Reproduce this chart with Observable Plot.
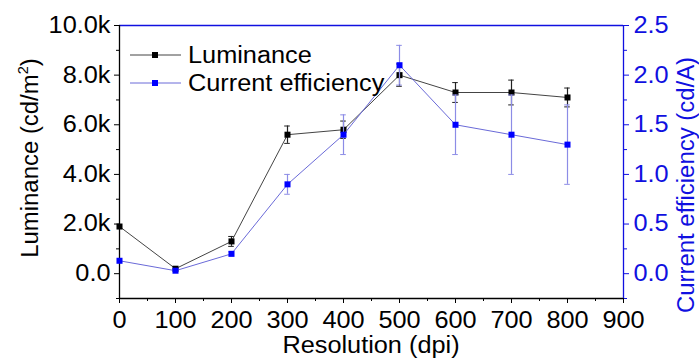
<!DOCTYPE html>
<html>
<head>
<meta charset="utf-8">
<script src="https://cdn.jsdelivr.net/npm/d3@7"></script>
<script src="https://cdn.jsdelivr.net/npm/@observablehq/plot@0.6"></script>
<style>
  html, body { margin: 0; padding: 0; background: #fff; }
  #chart { position: relative; width: 699px; height: 359px; }
</style>
</head>
<body>
<div id="chart"></div>
<script>
const resolution = [0, 100, 200, 300, 400, 500, 600, 700, 800];
const luminance = [1900, 200, 1300, 5600, 5800, 8000, 7300, 7300, 7100];
const luminanceErr = [0, 0, 200, 350, 350, 450, 400, 500, 380];
const efficiency = [0.13, 0.03, 0.2, 0.9, 1.4, 2.1, 1.5, 1.4, 1.3];
const efficiencyErr = [0, 0, 0.02, 0.1, 0.2, 0.2, 0.3, 0.4, 0.4];

const xTicks = [0, 100, 200, 300, 400, 500, 600, 700, 800, 900];
const xMinor = [50, 150, 250, 350, 450, 550, 650, 750, 850];
const lumTicks = [0, 2000, 4000, 6000, 8000, 10000];
const lumMinor = [-1000, 1000, 3000, 5000, 7000, 9000];
const effTicks = [0, 0.5, 1.0, 1.5, 2.0, 2.5];
const effMinor = [-0.25, 0.25, 0.75, 1.25, 1.75, 2.25];

const xDomain = [0, 900];
const lumDomain = [-1000, 10000];
const ratio = 4000; // luminance units per cd/A on the shared scale

const BLUE = "#1010e0";
const BLUE_LINE = "#6a6ad8";
const BLUE_ERR = "#8c8ce6";
const BLACK_LINE = "#444";
const FONT = "'Liberation Sans', Arial, sans-serif";
const STRETCH = 1.1;
const STRETCH_ROTATED = 1.04;

const lum = resolution.map((x, i) => ({x, y: luminance[i], e: luminanceErr[i]}));
const eff = resolution.map((x, i) => ({x, y: efficiency[i] * ratio, e: efficiencyErr[i] * ratio}));
const capHalf = 5;

const plot = Plot.plot({
  width: 699,
  height: 359,
  marginLeft: 119,
  marginRight: 76,
  marginTop: 25,
  marginBottom: 61,
  style: {fontFamily: FONT, fontSize: "23px", background: "#fff", color: "#000"},
  x: {domain: xDomain, label: null},
  y: {domain: lumDomain, label: null},
  marks: [
    // minor ticks
    Plot.axisX({ticks: xMinor, tickSize: 3, tickFormat: () => "", label: null}),
    Plot.axisY({ticks: lumMinor, tickSize: 3, tickFormat: () => "", label: null}),
    Plot.axisY({anchor: "right", ticks: effMinor.map(v => v * ratio), tickSize: 3, tickFormat: () => "", label: null, color: BLUE}),
    // major ticks
    Plot.axisX({ticks: xTicks, tickSize: 5, tickPadding: 8, tickFormat: d => String(d), label: null, fontSize: 23}),
    Plot.axisY({ticks: lumTicks, tickSize: 5, tickPadding: 4, tickFormat: d => d === 0 ? "0.0" : (d / 1000).toFixed(1) + "k", label: null, fontSize: 23}),
    Plot.axisY({anchor: "right", ticks: effTicks.map(v => v * ratio), tickSize: 5, tickPadding: 5, tickFormat: d => (d / ratio).toFixed(1), label: null, color: BLUE, fontSize: 23}),
    // frame
    Plot.ruleY([lumDomain[1]], {stroke: BLUE, strokeWidth: 1.3}),
    Plot.ruleX([xDomain[1]], {stroke: BLUE, strokeWidth: 1.3}),
    Plot.ruleX([xDomain[0]], {stroke: "#000", strokeWidth: 1.3}),
    Plot.ruleY([lumDomain[0]], {stroke: "#000", strokeWidth: 1.3}),
    // luminance series
    Plot.line(lum, {x: "x", y: "y", stroke: BLACK_LINE, strokeWidth: 1}),
    Plot.ruleX(lum.filter(d => d.e > 0), {x: "x", y1: d => d.y - d.e, y2: d => d.y + d.e, stroke: "#222", strokeWidth: 1.2}),
    Plot.ruleY(lum.filter(d => d.e > 0), {y: d => d.y - d.e, x1: d => d.x - capHalf, x2: d => d.x + capHalf, stroke: "#222", strokeWidth: 1}),
    Plot.ruleY(lum.filter(d => d.e > 0), {y: d => d.y + d.e, x1: d => d.x - capHalf, x2: d => d.x + capHalf, stroke: "#222", strokeWidth: 1}),
    Plot.dot(lum, {x: "x", y: "y", symbol: "square", r: 3.4, fill: "#000", stroke: "none"}),
    // efficiency series
    Plot.line(eff, {x: "x", y: "y", stroke: BLUE_LINE, strokeWidth: 1}),
    Plot.ruleX(eff.filter(d => d.e > 0), {x: "x", y1: d => d.y - d.e, y2: d => d.y + d.e, stroke: BLUE_ERR, strokeWidth: 1.2}),
    Plot.ruleY(eff.filter(d => d.e > 0), {y: d => d.y - d.e, x1: d => d.x - capHalf, x2: d => d.x + capHalf, stroke: BLUE_ERR, strokeWidth: 1}),
    Plot.ruleY(eff.filter(d => d.e > 0), {y: d => d.y + d.e, x1: d => d.x - capHalf, x2: d => d.x + capHalf, stroke: BLUE_ERR, strokeWidth: 1}),
    Plot.dot(eff, {x: "x", y: "y", symbol: "square", r: 3.4, fill: "#0000ff", stroke: "none"})
  ]
});

document.getElementById("chart").appendChild(plot);

// titles and legend
const svg = d3.select(plot);
const g = svg.append("g").attr("font-family", FONT).attr("font-size", 23);

g.append("text")
  .attr("x", 371).attr("y", 353)
  .attr("text-anchor", "middle").attr("fill", "#000")
  .text("Resolution (dpi)");

const lt = g.append("text")
  .attr("class", "rotated")
  .attr("transform", "translate(38,158) rotate(-90)")
  .attr("text-anchor", "middle").attr("fill", "#000");
lt.append("tspan").text("Luminance (cd/m");
lt.append("tspan").attr("font-size", 14).attr("dy", -10).text("2");
lt.append("tspan").attr("dy", 10).text(")");

g.append("text")
  .attr("class", "rotated")
  .attr("transform", "translate(694,185) rotate(-90)")
  .attr("text-anchor", "middle").attr("fill", BLUE)
  .text("Current efficiency (cd/A)");

const legend = [
  {label: "Luminance", line: BLACK_LINE, fill: "#000", y: 55},
  {label: "Current efficiency", line: BLUE_LINE, fill: "#0000ff", y: 83}
];
legend.forEach(d => {
  g.append("line").attr("x1", 130).attr("x2", 181).attr("y1", d.y).attr("y2", d.y)
    .attr("stroke", d.line).attr("stroke-width", 1);
  g.append("rect").attr("x", 152).attr("y", d.y - 3).attr("width", 6).attr("height", 6).attr("fill", d.fill);
  g.append("text").attr("x", 188).attr("y", d.y + 8).attr("text-anchor", "start").attr("fill", "#000").text(d.label);
});

// the reference typeface is slightly wider: stretch each text's advance
svg.selectAll("text").each(function () {
  const len = this.getComputedTextLength();
  const k = this.classList.contains("rotated") ? STRETCH_ROTATED : STRETCH;
  if (len > 0) {
    this.setAttribute("textLength", (len * k).toFixed(1));
    this.setAttribute("lengthAdjust", "spacingAndGlyphs");
  }
});
</script>
</body>
</html>
